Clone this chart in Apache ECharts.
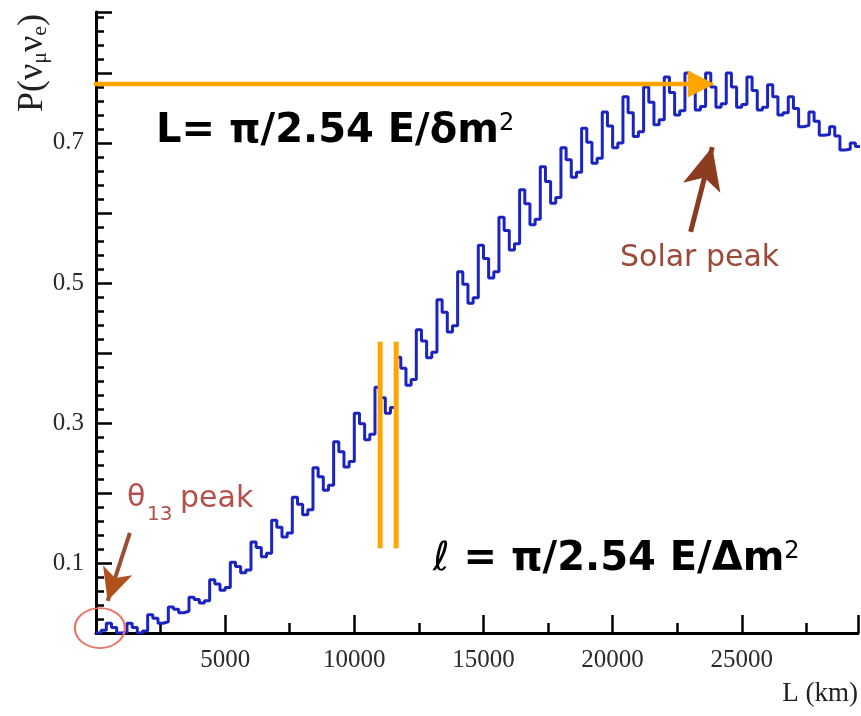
<!DOCTYPE html>
<html>
<head>
<meta charset="utf-8">
<script src="https://cdn.jsdelivr.net/npm/echarts@6/dist/echarts.min.js"></script>
<style>
  html, body { margin: 0; padding: 0; background: #ffffff; }
  #chart { width: 861px; height: 716px; }
</style>
</head>
<body>
<div id="chart"></div>
<script>
// P(numu -> nue) versus baseline, histogrammed in 200 km bins starting at L = 0
const BIN_KM = 200;
const probability = [
  0.000, 0.004, 0.014, 0.008, 0.000, 0.001, 0.014, 0.008, 0.000, 0.003,
  0.026, 0.021, 0.014, 0.016, 0.037, 0.034, 0.029, 0.031, 0.051, 0.048,
  0.043, 0.046, 0.076, 0.070, 0.061, 0.065, 0.101, 0.095, 0.086, 0.090,
  0.130, 0.122, 0.109, 0.114, 0.161, 0.151, 0.137, 0.143, 0.194, 0.184,
  0.169, 0.176, 0.236, 0.223, 0.204, 0.211, 0.273, 0.259, 0.237, 0.245,
  0.314, 0.299, 0.276, 0.284, 0.351, 0.336, 0.314, 0.322, 0.394, 0.378,
  0.354, 0.362, 0.433, 0.417, 0.393, 0.401, 0.476, 0.458, 0.430, 0.439,
  0.516, 0.498, 0.471, 0.479, 0.554, 0.535, 0.507, 0.516, 0.594, 0.575,
  0.547, 0.556, 0.633, 0.613, 0.583, 0.591, 0.666, 0.645, 0.614, 0.622,
  0.693, 0.676, 0.651, 0.658, 0.721, 0.701, 0.671, 0.678, 0.744, 0.724,
  0.693, 0.700, 0.766, 0.743, 0.709, 0.716, 0.780, 0.758, 0.726, 0.733,
  0.794, 0.772, 0.740, 0.746, 0.800, 0.779, 0.747, 0.752, 0.800, 0.780,
  0.751, 0.756, 0.800, 0.780, 0.751, 0.755, 0.794, 0.775, 0.747, 0.751,
  0.783, 0.766, 0.740, 0.743, 0.766, 0.749, 0.723, 0.725, 0.744, 0.731,
  0.711, 0.712, 0.723, 0.710, 0.690, 0.691, 0.700, 0.695
];

// Axis ranges (km, probability)
const L_MAX = 29500;
const P_MAX = 0.887;
const L_MAJOR = 5000;
const L_MINOR = 2500;
const P_MAJOR = 0.1;
const P_MINOR = 0.02;
const L_LABELS = [5000, 10000, 15000, 20000, 25000];
const P_LABELS = [0.1, 0.3, 0.5, 0.7];

// Annotation marks in data coordinates [L km, P]
const fastLengthMarkers = [11000, 11620];
const fastLengthSpan = [0.121, 0.416];
const solarLevelShaft = [[-80, 0.784], [23430, 0.784]];
const solarLevelHead = [23430, 0.784];
const solarPeakShaft = [[23020, 0.573], [23860, 0.694]];
const solarPeakHead = [23860, 0.694];
const thetaPeakShaft = [[1310, 0.143], [450, 0.046]];
const thetaPeakHead = [450, 0.046];
const originRing = [150, 0.007];

const histogram = probability.map((v, i) => [i * BIN_KM, v]);
histogram.push([probability.length * BIN_KM, probability[probability.length - 1]]);

const ORANGE = '#FFA500';
const BLUE = '#1b24c0';
const SERIF = '"Liberation Serif", "DejaVu Serif", serif';
const SANS = '"DejaVu Sans", sans-serif';

const chart = echarts.init(document.getElementById('chart'), null, { renderer: 'canvas' });

const tickLabelStyle = { fontFamily: SERIF, fontSize: 25, color: '#2b2b2b' };
const near = (a, b) => Math.abs(a - b) < 1e-6;

const option = {
  animation: false,
  backgroundColor: '#ffffff',
  grid: { left: 96, right: 0, top: 12, bottom: 83, containLabel: false },
  xAxis: [
    {
      type: 'value', min: 0, max: L_MAX, interval: L_MAJOR,
      axisLine: { show: true, lineStyle: { color: '#000', width: 3 } },
      axisTick: { show: true, inside: true, length: 18, lineStyle: { color: '#000', width: 2.5 } },
      axisLabel: {
        show: true, margin: 15, ...tickLabelStyle,
        formatter: v => (L_LABELS.some(t => near(t, v)) ? String(v) : '')
      },
      splitLine: { show: false }
    },
    {
      type: 'value', min: 0, max: L_MAX, interval: L_MINOR, position: 'bottom',
      axisLine: { show: false },
      axisTick: { show: true, inside: true, length: 10, lineStyle: { color: '#000', width: 2.5 } },
      axisLabel: { show: false },
      splitLine: { show: false }
    }
  ],
  yAxis: [
    {
      type: 'value', min: 0, max: P_MAX, interval: P_MAJOR,
      axisLine: { show: true, lineStyle: { color: '#000', width: 3 } },
      axisTick: { show: true, inside: true, length: 16, lineStyle: { color: '#000', width: 2.5 } },
      axisLabel: {
        show: true, margin: 12, ...tickLabelStyle,
        formatter: v => (P_LABELS.some(t => near(t, v)) ? v.toFixed(1) : '')
      },
      splitLine: { show: false }
    },
    {
      type: 'value', min: 0, max: P_MAX, interval: P_MINOR, position: 'left',
      axisLine: { show: false },
      axisTick: { show: true, inside: true, length: 8, lineStyle: { color: '#000', width: 2.5 } },
      axisLabel: { show: false },
      splitLine: { show: false }
    }
  ],
  series: [
    {
      name: 'probability', type: 'line', step: 'end', data: histogram,
      symbol: 'none', z: 3,
      lineStyle: { color: BLUE, width: 3 }
    },
    ...fastLengthMarkers.map((L, i) => ({
      name: 'fast length ' + i, type: 'line', z: 5, symbol: 'none', silent: true,
      data: [[L, fastLengthSpan[0]], [L, fastLengthSpan[1]]],
      lineStyle: { color: ORANGE, width: 5, cap: 'butt' }
    })),
    {
      name: 'solar level', type: 'line', z: 5, symbol: 'none', clip: false, silent: true,
      data: solarLevelShaft,
      lineStyle: { color: ORANGE, width: 4.5 }
    },
    {
      name: 'solar level head', type: 'scatter', z: 6, clip: false, silent: true,
      data: [solarLevelHead], symbol: 'triangle', symbolSize: [27, 27], symbolRotate: -90,
      itemStyle: { color: ORANGE, opacity: 1 }
    },
    {
      name: 'solar peak pointer', type: 'line', z: 6, symbol: 'none', silent: true,
      data: solarPeakShaft,
      lineStyle: { color: '#8c3c1e', width: 5 }
    },
    {
      name: 'solar peak head', type: 'scatter', z: 7, silent: true,
      data: [solarPeakHead], symbol: 'arrow', symbolSize: [29, 42], symbolRotate: -14.7,
      itemStyle: { color: '#8c3c1e', opacity: 1 }
    },
    {
      name: 'theta peak pointer', type: 'line', z: 6, symbol: 'none', silent: true, clip: false,
      data: thetaPeakShaft,
      lineStyle: { color: '#9a5030', width: 4 }
    },
    {
      name: 'theta peak head', type: 'scatter', z: 7, silent: true, clip: false,
      data: [thetaPeakHead], symbol: 'arrow', symbolSize: [23, 32], symbolRotate: 161.8,
      itemStyle: { color: '#b0501c', opacity: 1 }
    },
    {
      name: 'origin ring', type: 'scatter', z: 7, silent: true, clip: false,
      data: [originRing], symbol: 'circle', symbolSize: [50, 40],
      itemStyle: { color: 'rgba(0,0,0,0)', borderColor: '#e8766a', borderWidth: 2, opacity: 1 }
    }
  ],
  graphic: [
    {
      type: 'text', left: 156, top: 112, z: 20,
      style: {
        text: '{t|L= π/2.54 E/δm}{s|2}',
        rich: {
          t: { fontFamily: SANS, fontWeight: 'bold', fontSize: 40, fill: '#000' },
          s: { fontFamily: SANS, fontSize: 24, fill: '#000', verticalAlign: 'top' }
        }
      }
    },
    {
      type: 'text', left: 433, top: 540, z: 20,
      style: {
        text: '{l|ℓ}{t| = π/2.54 E/Δm}{s|2}',
        rich: {
          l: { fontFamily: SANS, fontSize: 40, fill: '#000' },
          t: { fontFamily: SANS, fontWeight: 'bold', fontSize: 40, fill: '#000' },
          s: { fontFamily: SANS, fontSize: 24, fill: '#000', verticalAlign: 'top' }
        }
      }
    },
    {
      type: 'text', left: 620, top: 243, z: 20,
      style: { text: 'Solar peak', font: '30px ' + SANS, fill: '#9a4a38' }
    },
    {
      type: 'text', left: 127, top: 483, z: 20,
      style: { text: 'θ', font: '30px ' + SANS, fill: '#b4504a' }
    },
    {
      type: 'text', left: 147, top: 505, z: 20,
      style: { text: '13', font: '20px ' + SANS, fill: '#b4504a' }
    },
    {
      type: 'text', left: 180, top: 484, z: 20,
      style: { text: 'peak', font: '30px ' + SANS, fill: '#b4504a' }
    },
    {
      type: 'text', x: 33, y: 63, rotation: Math.PI / 2, z: 20,
      style: {
        text: '{n|P(ν}{s|μ}{n|ν}{s|e}{n|)}',
        align: 'center', verticalAlign: 'middle',
        rich: {
          n: { fontFamily: SERIF, fontSize: 36, fill: '#222' },
          s: { fontFamily: SERIF, fontSize: 22, fill: '#222', verticalAlign: 'bottom', padding: [10, 0, 0, 0] }
        }
      }
    },
    {
      type: 'text', right: 3, top: 680, z: 20,
      style: { text: 'L (km)', font: '27px ' + SERIF, fill: '#222' }
    }
  ]
};

chart.setOption(option);
</script>
</body>
</html>
